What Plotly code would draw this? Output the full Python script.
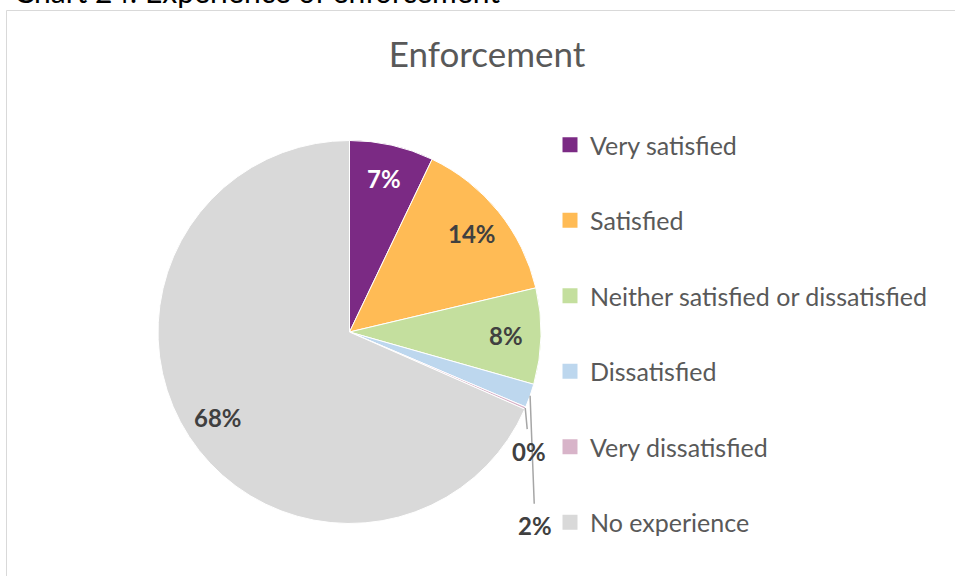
import math
import plotly.graph_objects as go

# Survey responses: experience of enforcement (share of respondents, %)
categories = ["Very satisfied", "Satisfied", "Neither satisfied or dissatisfied",
              "Dissatisfied", "Very dissatisfied", "No experience"]
shares = [7.1, 14.2, 8.1, 2.0, 0.2, 68.4]
colors = ["#7B2A84", "#FFBB55", "#C4DF9E", "#BDD7EE", "#D8B4C9", "#D9D9D9"]
label_colors = ["#FFFFFF", "#404040", "#404040", "#404040", "#404040", "#404040"]

W, H = 955, 576
FONT = "Lato"

# pie placement in pixels
cx, cy, R = 349.5, 332.0, 191.5


def px_to_paper(x, y):
    return x / W, 1 - y / H


x0, y0 = px_to_paper(cx - R, cy + R)
x1, y1 = px_to_paper(cx + R, cy - R)

fig = go.Figure()
fig.add_trace(go.Pie(
    labels=categories,
    values=shares,
    sort=False,
    direction="clockwise",
    rotation=0,
    marker=dict(colors=colors, line=dict(color="#FFFFFF", width=1)),
    textinfo="none",
    hoverinfo="label+percent",
    showlegend=False,
    domain=dict(x=[x0, x1], y=[y0, y1]),
))

# legend entries (square swatches), one group per category for even spacing
for name, col in zip(categories, colors):
    fig.add_trace(go.Scatter(
        x=[None], y=[None], mode="markers", name=name,
        marker=dict(symbol="square", size=15, color=col),
        legendgroup=name, showlegend=True, hoverinfo="skip",
    ))

# percentage labels, positioned from the slice angles
total = sum(shares)
cum = 0.0
annotations = []
small = {"Dissatisfied": (5, 130), "Very dissatisfied": (4, 43)}
for name, v, tc in zip(categories, shares, label_colors):
    start = cum / total * 360
    cum += v
    end = cum / total * 360
    mid = math.radians((start + end) / 2)
    text = f"<b>{round(v / total * 100):d}%</b>"
    if name in small:
        ex, ey = px_to_paper(cx + R * math.sin(mid), cy - R * math.cos(mid))
        ax, ay = small[name]
        annotations.append(dict(
            x=ex, y=ey, xref="paper", yref="paper", text=text,
            showarrow=True, arrowhead=0, arrowwidth=1.5, arrowcolor="#A6A6A6",
            ax=ax, ay=ay, standoff=0, startstandoff=6,
            font=dict(family=FONT, size=24, color="#404040"),
        ))
    else:
        k = 0.82
        lx, ly = px_to_paper(cx + k * R * math.sin(mid), cy - k * R * math.cos(mid))
        annotations.append(dict(
            x=lx, y=ly, xref="paper", yref="paper", text=text, showarrow=False,
            xanchor="center", yanchor="middle",
            font=dict(family=FONT, size=24, color=tc),
        ))

# heading above the chart frame
annotations.append(dict(
    x=12 / W, y=1 - 11 / H, xref="paper", yref="paper", xanchor="left", yanchor="bottom",
    text="Chart 24: Experience of enforcement", showarrow=False,
    font=dict(family=FONT, size=30, color="#000000"),
))

fig.update_layout(
    width=W, height=H,
    margin=dict(l=0, r=0, t=0, b=0, autoexpand=False),
    paper_bgcolor="#FFFFFF", plot_bgcolor="#FFFFFF",
    title=dict(text="Enforcement", x=487 / W, xanchor="center",
               y=1 - 55 / H, yanchor="middle",
               font=dict(family=FONT, size=35, color="#595959")),
    xaxis=dict(visible=False), yaxis=dict(visible=False),
    legend=dict(
        x=550 / W, y=1 - 122 / H, xanchor="left", yanchor="top",
        traceorder="grouped", tracegroupgap=40,
        font=dict(family=FONT, size=25, color="#595959"),
        bgcolor="rgba(0,0,0,0)", itemclick=False, itemdoubleclick=False,
    ),
    annotations=annotations,
    shapes=[dict(type="rect", xref="paper", yref="paper",
                 x0=6.5 / W, y0=-0.05, x1=1.05, y1=1 - 10.5 / H,
                 line=dict(color="#D9D9D9", width=1), layer="below")],
    showlegend=True,
)

fig.write_html("out.html")
